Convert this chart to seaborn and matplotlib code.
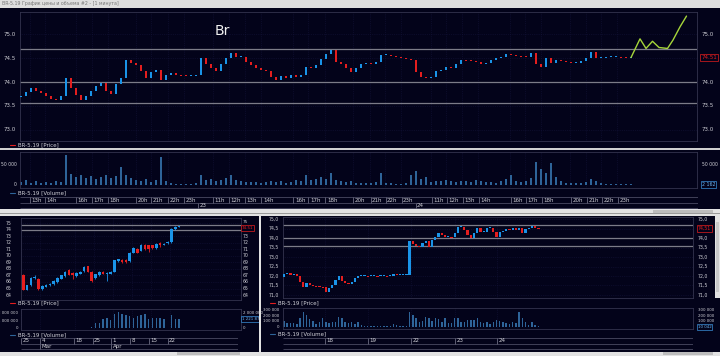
import matplotlib
matplotlib.use("Agg")
import matplotlib.pyplot as plt
import matplotlib.patches as mpatches
from matplotlib.lines import Line2D
from matplotlib.transforms import blended_transform_factory as blend, offset_copy
import numpy as np
import pandas as pd
import seaborn as sns

# ---------------- data ----------------
# top chart: 1-minute view (closes / volumes), BR-5.19
top_open0 = 73.68
top_close = [73.70, 73.80, 73.88, 73.82, 73.78, 73.70, 73.65, 73.62, 73.70, 74.08,
             73.88, 73.72, 73.62, 73.70, 73.82, 73.92, 73.97, 73.82, 73.76, 73.95,
             74.08, 74.45, 74.40, 74.35, 74.22, 74.08, 74.20, 74.25, 74.05, 74.15,
             74.18, 74.15, 74.14, 74.12, 74.13, 74.15, 74.50, 74.38, 74.30, 74.22,
             74.38, 74.50, 74.60, 74.52, 74.52, 74.42, 74.35, 74.30, 74.26, 74.24,
             74.10, 74.05, 74.12, 74.08, 74.15, 74.10, 74.15, 74.32, 74.30, 74.35,
             74.48, 74.58, 74.67, 74.42, 74.38, 74.30, 74.20, 74.30, 74.38, 74.40,
             74.38, 74.42, 74.56, 74.57, 74.55, 74.52, 74.50, 74.48, 74.45, 74.20,
             74.10, 74.08, 74.10, 74.22, 74.25, 74.32, 74.30, 74.38, 74.46, 74.45,
             74.44, 74.42, 74.38, 74.40, 74.45, 74.50, 74.52, 74.58, 74.56, 74.55,
             74.54, 74.52, 74.60, 74.38, 74.32, 74.50, 74.40, 74.45, 74.43, 74.42,
             74.40, 74.40, 74.44, 74.50, 74.62, 74.50, 74.50, 74.52, 74.52, 74.53,
             74.52, 74.51, 74.51]
top_volume = [8000, 12000, 6000, 9000, 5000, 7000, 4000, 10000, 8000, 75000,
              28000, 20000, 26000, 18000, 22000, 15000, 20000, 25000, 18000, 22000,
              45000, 25000, 18000, 12000, 10000, 14000, 8000, 12000, 70000, 10000,
              4000, 3000, 3000, 2500, 3000, 4000, 25000, 12000, 14000, 10000,
              12000, 18000, 25000, 12000, 9000, 8000, 7000, 8000, 6000, 7000,
              9000, 8000, 10000, 6000, 8000, 12000, 9000, 25000, 12000, 15000,
              20000, 14000, 30000, 12000, 10000, 8000, 9000, 6000, 5000, 4000,
              6000, 8000, 30000, 6000, 4000, 3000, 3500, 4000, 25000, 35000,
              15000, 20000, 8000, 10000, 9000, 12000, 10000, 8000, 9000, 10000,
              8000, 12000, 9000, 7000, 8000, 6000, 10000, 14000, 25000, 9000,
              8000, 10000, 18000, 57000, 40000, 30000, 55000, 20000, 10000, 6000,
              5000, 4000, 5000, 8000, 15000, 9000, 5000, 3000, 2500, 2000,
              2000, 2000, 2162]
top_hour_labels = ["13h", "14h", "16h", "17h", "18h", "20h", "21h", "22h", "23h",
                   "11h", "12h", "13h", "14h", "16h", "17h", "18h", "20h", "21h", "22h", "23h",
                   "11h", "12h", "13h", "14h", "16h", "17h", "18h", "20h", "21h", "22h", "23h"]
top_hour_pos = [1.8, 4.8, 11.0, 14.2, 17.4, 23.0, 26.0, 29.4, 32.6,
                38.4, 41.6, 44.8, 48.0, 54.4, 57.4, 60.8, 66.4, 69.8, 72.8, 76.0,
                82.0, 85.0, 88.2, 91.4, 97.8, 100.8, 104.0, 109.8, 113.0, 116.0, 119.2]
top_day_labels = ["23", "24"]
top_day_pos = [35.4, 78.8]
forecast_pos = [122, 123.8, 125.0, 126.3, 127.6, 129.3, 130.4, 131.8, 133.1]
forecast_price = [74.51, 74.90, 74.70, 74.85, 74.72, 74.70, 74.875, 75.15, 75.375]
level_prices = [74.68, 74.00, 73.57]
last_price = 74.51
top_ticks = [75.0, 74.5, 74.0, 73.5, 73.0]

# bottom-left: daily candles 25 Feb .. 24 Apr
d_open = [67.1, 64.8, 65.5, 66.6, 66.5, 64.9, 65.3, 65.5, 65.7, 66.0, 66.5, 66.9, 67.8, 67.4,
          66.9, 67.3, 67.7, 68.4, 67.6, 66.6, 67.0, 67.6, 67.3, 67.3, 67.6, 69.2, 69.4, 69.3,
          69.2, 70.5, 71.1, 70.8, 71.7, 71.6, 71.6, 71.2, 72.0, 71.7, 72.0, 72.1, 74.1, 74.45]
d_close = [64.8, 65.5, 66.6, 66.8, 64.9, 65.4, 65.5, 65.7, 66.2, 66.6, 67.0, 67.6, 67.1, 67.1,
           67.4, 67.6, 68.3, 67.6, 66.2, 67.2, 67.6, 67.3, 67.4, 67.6, 69.3, 69.5, 69.0, 69.0,
           70.5, 71.2, 70.5, 71.7, 71.0, 71.0, 71.2, 71.9, 71.6, 71.9, 72.2, 74.2, 74.4, 74.55]
d_high = [67.2, 65.6, 66.7, 67.0, 66.6, 65.5, 65.7, 65.8, 66.3, 66.7, 67.1, 67.7, 68.0, 67.5,
          67.5, 67.7, 68.4, 68.5, 67.7, 67.3, 67.7, 67.7, 67.5, 67.7, 69.4, 69.6, 69.5, 69.6,
          70.6, 71.3, 71.2, 71.8, 71.8, 71.7, 71.7, 72.0, 72.1, 72.0, 72.3, 74.3, 74.6, 74.6]
d_low = [64.7, 64.7, 65.4, 66.5, 64.8, 64.8, 65.2, 65.4, 65.6, 65.9, 66.4, 66.8, 67.0, 66.4,
         66.8, 67.2, 67.6, 67.5, 66.0, 66.5, 66.9, 67.2, 66.1, 67.2, 67.5, 69.1, 68.9, 68.9,
         69.1, 70.4, 70.4, 70.7, 70.9, 70.6, 71.1, 71.1, 71.4, 71.6, 71.9, 72.0, 74.0, 74.4]
d_volume = [10000, 10000, 20000, 10000, 20000, 20000, 10000, 20000, 30000, 20000,
            20000, 30000, 20000, 30000, 40000, 50000, 80000,
            100000, 200000, 650000, 740000, 1300000, 1400000, 1100000,
            1950000, 2200000, 1950000, 1750000, 1650000, 1400000, 1650000, 1750000, 1870000,
            1300000, 1400000, 1400000, 1400000, 1300000, 50000, 1800000, 1300000, 1200000]
d_date_labels = ["25", "4", "18", "25", "1", "8", "15", "22"]
d_date_pos = [-0.5, 4.5, 13.5, 18.5, 23.5, 28.5, 33.5, 38.5]
d_month_labels = ["Mar", "Apr"]
d_month_pos = [4.5, 23.5]
d_ticks = [75, 74, 73, 72, 71, 70, 69, 68, 67, 66, 65, 64]

# bottom-right: hourly candles 17 Apr .. 24 Apr
h_open0 = 71.95
h_close = [72.12, 72.15, 72.05, 72.12, 71.98, 71.66, 71.42, 71.62, 71.52, 71.48, 71.45, 71.43, 71.42, 71.17, 71.35,
           71.55, 71.80, 71.98, 71.75, 71.62, 71.60, 71.68, 71.92, 71.98, 72.00, 72.00, 71.98,
           72.00, 72.00, 71.98, 72.00, 72.00, 71.98, 72.00, 72.08, 72.05, 72.05, 72.05, 72.05,
           73.85, 73.70, 73.60, 73.55, 73.72, 73.85, 73.55, 73.90, 74.05, 74.30, 74.15, 74.05, 74.08, 74.05,
           74.25, 74.60, 74.60, 74.45, 74.15, 74.00, 74.30, 74.52, 74.35, 74.35, 74.52, 74.52, 74.35, 74.05,
           74.35, 74.40, 74.48, 74.42, 74.52, 74.45, 74.55, 74.25, 74.50, 74.55, 74.62, 74.52, 74.51]
h_volume_k = [106, 65, 77, 65, 47, 165, 260, 213, 142, 106, 47, 83, 154, 95, 65,
              95, 83, 183, 154, 95, 65, 95, 47, 83, 35, 24, 24,
              18, 18, 20, 18, 22, 18, 20, 47, 35, 24, 18, 24,
              272, 213, 154, 83, 106, 183, 154, 106, 154, 142, 95, 154, 65, 65,
              165, 154, 83, 95, 124, 118, 130, 165, 83, 65, 95, 47, 95, 130,
              106, 83, 71, 47, 95, 65, 260, 165, 83, 35, 95, 35, 18]
h_volume = [v * 1000 for v in h_volume_k]
h_day_labels = ["18", "19", "22", "23", "24"]
h_day_pos = [12.7, 26.1, 39.4, 53.1, 66.1]
h_ticks = [75.0, 74.5, 74.0, 73.5, 73.0, 72.5, 72.0, 71.5, 71.0]

# ---------------- style ----------------
W, H = 720, 356
BG = "#03031a"
BLUE = "#1a94e8"
RED = "#e41e1e"
VOL = "#2e6499"
GREEN = "#a6d63a"
LVL = "#7c7c88"
TXT = "#cfcfd6"
SPINE = "#34344e"
GRID = "#14143a"
LIGHT = "#e2e2e2"
FS = 4.0
FSS = 3.3

sns.set_theme(style="dark")
plt.rcParams["font.family"] = ["DejaVu Sans"]

fig = plt.figure(figsize=(W / 100, H / 100), dpi=100, facecolor=BG)


def ax_px(x0, y0, x1, y1):
    ax = fig.add_axes([x0 / W, 1 - y1 / H, (x1 - x0) / W, (y1 - y0) / H])
    ax.set_facecolor(BG)
    for s in ax.spines.values():
        s.set_visible(True)
        s.set_color(SPINE)
        s.set_linewidth(0.6)
    ax.grid(False)
    return ax


def clean(ax):
    ax.set_xlabel("")
    ax.set_ylabel("")
    ax.set_xticks([])
    ax.set_yticks([])


def rect(x, y, w, h, color, z=10):
    fig.add_artist(mpatches.Rectangle((x / W, 1 - (y + h) / H), w / W, h / H,
                                      transform=fig.transFigure, facecolor=color,
                                      edgecolor="none", zorder=z))


def ftext(x, y, s, **kw):
    kw.setdefault("fontsize", FS)
    kw.setdefault("color", TXT)
    kw.setdefault("va", "center")
    fig.text(x / W, 1 - y / H, s, **kw)


def ylabels(ax, x_px, values, labels, ha, fs=FS):
    tr = blend(fig.transFigure, ax.transData)
    for v, s in zip(values, labels):
        ax.text(x_px / W, v, s, transform=tr, ha=ha, va="center", fontsize=fs,
                color=TXT, clip_on=False)


def boxlabel(ax, x_px, v, s, ec, tc, fs=FS):
    tr = blend(fig.transFigure, ax.transData)
    ax.text(x_px / W, v, s, transform=tr, ha="left", va="center", fontsize=fs,
            color=tc, clip_on=False, zorder=6,
            bbox=dict(boxstyle="square,pad=0.2", fc=BG, ec=ec, lw=0.5))


def legend(x, y, color, s):
    fig.add_artist(Line2D([x / W, (x + 5) / W], [1 - y / H] * 2, color=color, lw=0.8,
                          transform=fig.transFigure))
    ftext(x + 8, y, s)


def candles(ax, o, c, width, minh, h=None, l=None):
    o = np.asarray(o, float)
    c = np.asarray(c, float)
    x = np.arange(len(c))
    up = c >= o
    cols = np.where(up, BLUE, RED)
    body = c - o
    body = np.where(np.abs(body) < minh, np.where(up, minh, -minh), body)
    if h is not None:
        ax.vlines(x, l, h, colors=cols, lw=0.6, zorder=3)
    ax.bar(x, body, bottom=o, width=width, color=cols, linewidth=0, zorder=4)


def vol_bars(ax, v, width):
    df = pd.DataFrame({"x": np.arange(len(v)), "v": v})
    sns.barplot(data=df, x="x", y="v", native_scale=True, color=VOL, saturation=1,
                width=width, errorbar=None, ax=ax, linewidth=0)


def timeline(x0, x1, y0, xlim, pos1, lab1, pos2=None, lab2=None):
    ax = fig.add_axes([x0 / W, 1 - (y0 + 12) / H, (x1 - x0) / W, 13 / H])
    ax.set_xlim(xlim)
    ax.set_ylim(y0 + 12, y0 - 1)
    ax.axis("off")
    ax.hlines([y0, y0 + 6, y0 + 11], xlim[0], xlim[1], color="#4a4a62", lw=0.6)
    ax.vlines(pos1, y0, y0 + 6, color="#6a6a80", lw=0.6)
    tr = offset_copy(ax.transData, fig=fig, x=1.5, y=0, units="dots")
    for p, s in zip(pos1, lab1):
        ax.text(p, y0 + 3, s, transform=tr, ha="left", va="center", fontsize=FS, color=TXT)
    if pos2:
        ax.vlines(pos2, y0 + 6, y0 + 11, color="#6a6a80", lw=0.6)
        for p, s in zip(pos2, lab2):
            ax.text(p, y0 + 8.7, s, transform=tr, ha="left", va="center", fontsize=FS, color=TXT)
    return ax


# ---------------- top price ----------------
TOP_XLIM = (-0.2, 135.2)
axp = ax_px(20, 12, 697, 141)
for v in top_ticks:
    axp.axhline(v, color=GRID, lw=0.5, ls=":", zorder=1)
for p in top_hour_pos:
    axp.axvline(p, color=GRID, lw=0.5, ls=":", zorder=1)
for lv in level_prices:
    axp.axhline(lv, color=LVL, lw=0.9, zorder=2)
top_open = [top_open0] + top_close[:-1]
candles(axp, top_open, top_close, 0.5, 0.021)
sns.lineplot(x=forecast_pos, y=forecast_price, ax=axp, color=GREEN, lw=1.0, zorder=5)
axp.set_xlim(TOP_XLIM)
axp.set_ylim(72.77, 75.46)
clean(axp)
ylabels(axp, 16, top_ticks, ["75.0", "74.5", "74.0", "73.5", "73.0"], "right")
ylabels(axp, 702, [75.0, 74.0, 73.5, 73.0], ["75.0", "74.0", "73.5", "73.0"], "left")
boxlabel(axp, 701.5, last_price, "74.51", RED, RED)
ftext(222, 31, "Br", fontsize=10, color="#f0f0f0", ha="center")
legend(10, 145, RED, "BR-5.19 [Price]")

# ---------------- top volume ----------------
axv = ax_px(20, 152, 697, 188)
for p in top_hour_pos:
    axv.axvline(p, color=GRID, lw=0.5, ls=":", zorder=0)
vol_bars(axv, top_volume, 0.5)
axv.set_xlim(TOP_XLIM)
axv.set_ylim(-7500, 82500)
clean(axv)
ylabels(axv, 17, [50000, 0], ["50 000", "0"], "right", FSS)
ylabels(axv, 702, [50000], ["50 000"], "left", FSS)
boxlabel(axv, 701.5, 1000, "2 162", "#3a8fd8", "#6fb6f0", FSS)
legend(10, 193, VOL, "BR-5.19 [Volume]")
timeline(20, 698, 197, TOP_XLIM, top_hour_pos, top_hour_labels, top_day_pos, top_day_labels)

# ---------------- bottom-left daily ----------------
D_XLIM = (-0.6, 57.3)
axd = ax_px(21, 218, 241, 300)
for v in d_ticks:
    axd.axhline(v, color=GRID, lw=0.5, ls=":", zorder=1)
for p in d_date_pos:
    axd.axvline(p, color=GRID, lw=0.5, ls=":", zorder=1)
for lv in level_prices[:2]:
    axd.axhline(lv, color=LVL, lw=0.9, zorder=2)
candles(axd, d_open, d_close, 0.7, 0.15, d_high, d_low)
axd.set_xlim(D_XLIM)
axd.set_ylim(63.24, 75.81)
clean(axd)
ylabels(axd, 12, d_ticks, [str(t) for t in d_ticks], "right", FSS)
rl = [t for t in d_ticks if t not in (74, 75)]
ylabels(axd, 243, rl, [str(t) for t in rl], "left", FSS)
ylabels(axd, 243, [75.25], ["75"], "left", 3.0)
boxlabel(axd, 241.5, 74.3, "74.51", RED, RED, 3.0)
legend(10, 302.6, RED, "BR-5.19 [Price]")

axdv = ax_px(21, 309, 241, 330)
for p in d_date_pos:
    axdv.axvline(p, color=GRID, lw=0.5, ls=":", zorder=0)
vol_bars(axdv, d_volume, 0.35)
axdv.set_xlim(D_XLIM)
axdv.set_ylim(-227000, 2570000)
clean(axdv)
ylabels(axdv, 18.5, [2000000, 1000000, 0], ["2 000 000", "1 000 000", "0"], "right", 2.9)
ylabels(axdv, 243, [2000000, 0], ["2 000 000", "0"], "left", 2.9)
boxlabel(axdv, 242, 1221870, "1 221 87", "#3a8fd8", "#6fb6f0", 2.9)
legend(10, 335, VOL, "BR-5.19 [Volume]")
timeline(21, 238, 338, D_XLIM, d_date_pos, d_date_labels, d_month_pos, d_month_labels)

# ---------------- bottom-right hourly ----------------
H_XLIM = (-0.31, 127.0)
axh = ax_px(283, 217, 693, 298)
for v in h_ticks:
    axh.axhline(v, color=GRID, lw=0.5, ls=":", zorder=1)
for p in h_day_pos:
    axh.axvline(p, color=GRID, lw=0.5, ls=":", zorder=1)
for lv in level_prices:
    axh.axhline(lv, color=LVL, lw=0.9, zorder=2)
h_open = [h_open0] + h_close[:-1]
candles(axh, h_open, h_close, 0.7, 0.053)
axh.set_xlim(H_XLIM)
axh.set_ylim(70.836, 75.122)
clean(axh)
hl = [f"{t:.1f}".replace(".", ",") for t in h_ticks]
ylabels(axh, 279, h_ticks, hl, "right", FSS)
ylabels(axh, 698, [t for t in h_ticks if t != 74.5], [s for t, s in zip(h_ticks, hl) if t != 74.5], "left", FSS)
boxlabel(axh, 697.5, last_price, "74,51", RED, RED, FSS)
legend(270, 302.7, RED, "BR-5.19 [Price]")

axhv = ax_px(283, 308, 693, 329)
for p in h_day_pos:
    axhv.axvline(p, color=GRID, lw=0.5, ls=":", zorder=0)
vol_bars(axhv, h_volume, 0.45)
axhv.set_xlim(H_XLIM)
axhv.set_ylim(-36000, 339000)
clean(axhv)
ylabels(axhv, 279, [300000, 200000, 100000, 0], ["300 000", "200 000", "100 000", "0"], "right", 2.9)
ylabels(axhv, 698, [300000, 200000, 100000], ["300 000", "200 000", "100 000"], "left", 2.9)
boxlabel(axhv, 697.5, 2000, "10 042", "#3a8fd8", "#6fb6f0", 2.9)
legend(270, 334, VOL, "BR-5.19 [Volume]")
timeline(283, 693, 338, H_XLIM, h_day_pos, h_day_labels)

# ---------------- window chrome ----------------
rect(0, 0, 720, 8, "#dedede")
ftext(2, 4, "BR-5.19 График цены и объема #2 - [1 минута]", fontsize=3.4, color="#777777", zorder=11)
rect(0, 148.3, 720, 1.2, "#cfcfcf")
rect(0, 209, 720, 7, LIGHT)
rect(653, 209.6, 60, 3.2, "#bdbdbd", z=11)
rect(0, 213.2, 720, 0.6, "#9a9a9a", z=11)
rect(258.5, 214, 2.5, 142, LIGHT)
rect(0, 351.5, 720, 4.5, LIGHT)
rect(177, 352.2, 63, 3.2, "#bdbdbd", z=11)
rect(663, 352.2, 50, 3.2, "#bdbdbd", z=11)
rect(715, 216, 5, 82, LIGHT)
rect(715.8, 222, 3.4, 70, "#c8c8c8", z=11)

fig.savefig("out.png", dpi=100, facecolor=BG)
